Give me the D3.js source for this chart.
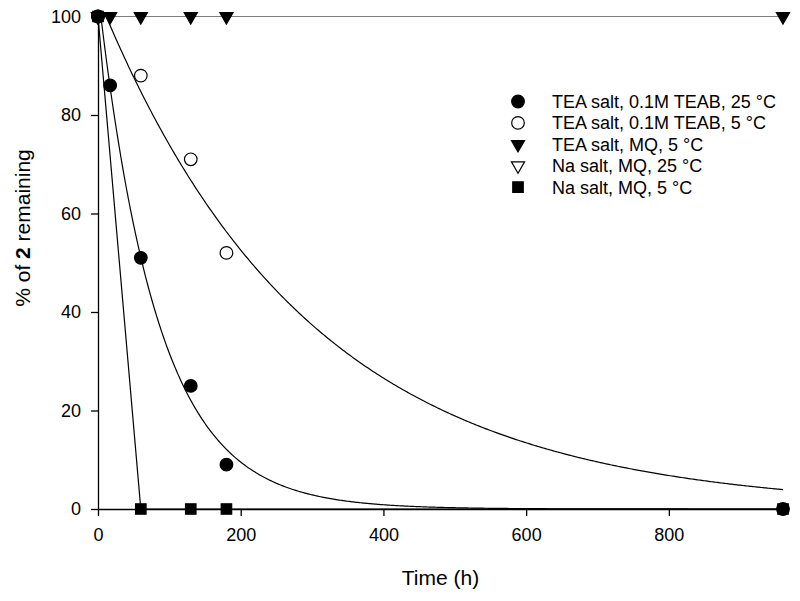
<!DOCTYPE html>
<html>
<head>
<meta charset="utf-8">
<script src="https://cdn.jsdelivr.net/npm/d3@7"></script>
<style>
  body { margin: 0; background: #fff; }
  text { font-family: Arial, "Liberation Sans", sans-serif; fill: #000; }
</style>
</head>
<body>
<div id="chart"></div>
<script>
// data
const xTicks = [0, 200, 400, 600, 800];
const yTicks = [0, 20, 40, 60, 80, 100];

const teab25Time = [0, 17, 60, 130, 180, 960];
const teab25Val  = [100, 86, 51, 25, 9, 0];

const teab5Time = [0, 60, 130, 180];
const teab5Val  = [100, 88, 71, 52];

const mq5Time = [0, 17, 60, 130, 180, 960];
const mq5Val  = [100, 100, 100, 100, 100, 100];

const na25Time = [0];
const na25Val  = [100];

const na5Time = [0, 60, 130, 180, 960];
const na5Val  = [100, 0, 0, 0, 0];

// exponential fits y = a*exp(-k t) (TEAB 25 °C, TEAB 5 °C)
const fitA = [105, 104];
const fitK = [0.012, 0.00341];

const legendLabels = [
  "TEA salt, 0.1M TEAB, 25 °C",
  "TEA salt, 0.1M TEAB, 5 °C",
  "TEA salt, MQ, 5 °C",
  "Na salt, MQ, 25 °C",
  "Na salt, MQ, 5 °C"
];

const W = 800, H = 601;
const margin = { top: 16.5, right: 17, bottom: 92, left: 98 };

const svg = d3.select("#chart").append("svg")
  .attr("width", W)
  .attr("height", H);

const x = d3.scaleLinear().domain([0, 960]).range([margin.left, W - margin.right]);
const y = d3.scaleLinear().domain([0, 100]).range([H - margin.bottom, margin.top]);

const zip = (t, v) => t.map((d, i) => ({ t: d, v: v[i] }));

// clip for the fitted curves
svg.append("clipPath").attr("id", "plotClip")
  .append("rect")
  .attr("x", x(0)).attr("y", y(100))
  .attr("width", x(960) - x(0)).attr("height", y(0) - y(100));

// axes
svg.append("g")
  .attr("transform", `translate(0,${y(0)})`)
  .call(d3.axisBottom(x).tickValues(xTicks).tickSize(7).tickPadding(12).tickSizeOuter(0))
  .call(g => g.selectAll("text").style("font-size", "18px"))
  .call(g => g.selectAll("line,path").attr("stroke", "#000").attr("stroke-width", 1.3));

svg.append("g")
  .attr("transform", `translate(${x(0)},0)`)
  .call(d3.axisLeft(y).tickValues(yTicks).tickSize(7).tickPadding(10).tickSizeOuter(0))
  .call(g => g.selectAll("text").style("font-size", "18px"))
  .call(g => g.selectAll("line,path").attr("stroke", "#000").attr("stroke-width", 1.3));

// axis titles
svg.append("text")
  .attr("x", (x(0) + x(960)) / 2).attr("y", 585)
  .attr("text-anchor", "middle")
  .style("font-size", "21px")
  .text("Time (h)");

const yTitle = svg.append("text")
  .attr("transform", "translate(30,228) rotate(-90)")
  .attr("text-anchor", "middle")
  .style("font-size", "21px");
yTitle.append("tspan").text("% of ");
yTitle.append("tspan").style("font-weight", "bold").text("2");
yTitle.append("tspan").text(" remaining");

// lines
const line = d3.line().x(d => x(d.t)).y(d => y(d.v));
const lines = svg.append("g")
  .attr("clip-path", "url(#plotClip)")
  .attr("fill", "none")
  .attr("stroke", "#000")
  .attr("stroke-width", 1.2);

lines.append("path").attr("d", line(zip(mq5Time, mq5Val)));
lines.append("path").attr("d", line(zip(na5Time, na5Val)));

const tGrid = d3.range(0, 961, 2);
fitA.forEach((a, i) => {
  lines.append("path")
    .attr("d", line(tGrid.map(t => ({ t: t, v: a * Math.exp(-fitK[i] * t) }))));
});

// markers
const sym = (type, size) => d3.symbol().type(type).size(size)();
const circleP = sym(d3.symbolCircle, 125);
const squareP = sym(d3.symbolSquare, 110);
const triP = sym(d3.symbolTriangle, 75);

const series = [
  { t: na25Time, v: na25Val, path: triP, rot: 180, fill: "#fff" },
  { t: na5Time, v: na5Val, path: squareP, rot: 0, fill: "#000" },
  { t: mq5Time, v: mq5Val, path: triP, rot: 180, fill: "#000" },
  { t: teab5Time, v: teab5Val, path: circleP, rot: 0, fill: "#fff" },
  { t: teab25Time, v: teab25Val, path: circleP, rot: 0, fill: "#000" }
];

series.forEach(s => {
  svg.append("g").selectAll("path")
    .data(zip(s.t, s.v))
    .enter().append("path")
    .attr("d", s.path)
    .attr("transform", d => `translate(${x(d.t)},${y(d.v)}) rotate(${s.rot})`)
    .attr("fill", s.fill)
    .attr("stroke", "#000")
    .attr("stroke-width", 1.2);
});

// legend
const legendSyms = [
  { path: circleP, rot: 0, fill: "#000" },
  { path: circleP, rot: 0, fill: "#fff" },
  { path: triP, rot: 180, fill: "#000" },
  { path: triP, rot: 180, fill: "#fff" },
  { path: squareP, rot: 0, fill: "#000" }
];

const legend = svg.append("g");
legendLabels.forEach((lab, i) => {
  const ly = 101.5 + i * 21.4;
  legend.append("path")
    .attr("d", legendSyms[i].path)
    .attr("transform", `translate(518,${ly}) rotate(${legendSyms[i].rot})`)
    .attr("fill", legendSyms[i].fill)
    .attr("stroke", "#000")
    .attr("stroke-width", 1.2);
  legend.append("text")
    .attr("x", 552).attr("y", ly)
    .attr("dy", "0.36em")
    .style("font-size", "18px")
    .text(lab);
});
</script>
</body>
</html>
